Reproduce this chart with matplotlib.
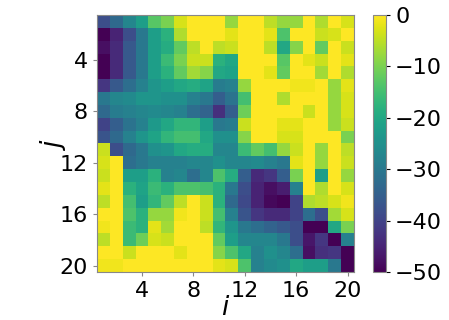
import numpy as np
import matplotlib
matplotlib.use('Agg')
import matplotlib.pyplot as plt

# values, rows j = 1..20, columns i = 1..20
row01 = [-38, -33, -27, -22, -13, -10, -3, 0, 0, 0, -8, 0, 0, -5, -8, -8, 0, -6, 0, -3]
row02 = [-50, -45, -38, -30, -22, -18, -6, 0, 0, 0, -2, 0, 0, -2, -14, 0, 0, -4, -3, 0]
row03 = [-48, -44, -36, -30, -22, -19, -12, -5, 0, -5, -4, 0, 0, -5, -20, -9, 0, -12, 0, -4]
row04 = [-50, -44, -36, -30, -22, -16, -10, -4, -4, -18, -20, 0, 0, 0, -13, 0, -2, -4, 0, -2]
row05 = [-50, -44, -36, -30, -22, -18, -12, -7, -9, -20, -21, 0, 0, -2, -12, 0, 0, -7, 0, -6]
row06 = [-42, -36, -32, -28, -24, -22, -20, -19, -21, -29, -28, -8, 0, 0, 0, -1, -1, 0, -8, -2]
row07 = [-30, -27, -26, -24, -24, -25, -25, -28, -30, -35, -31, -15, 0, 0, -6, 0, 0, 0, -8, -3]
row08 = [-33, -29, -28, -27, -26, -27, -28, -32, -34, -43, -35, -11, 0, 0, 0, 0, -4, 0, -8, -3]
row09 = [-40, -35, -31, -28, -23, -20, -17, -17, -22, -30, -29, -4, 0, 0, -2, -2, 0, 0, -8, -4]
row10 = [-37, -33, -28, -24, -21, -17, -15, -15, -20, -25, -25, -9, 0, 0, -3, -3, 0, 0, 0, -10]
row11 = [-4, -38, -33, -30, -25, -24, -20, -19, -19, -27, -27, -16, -12, -15, -8, -4, 0, -8, 0, -5]
row12 = [-3, 0, -32, -30, -28, -28, -28, -27, -27, -25, -27, -27, -26, -28, -30, -2, 0, -8, 0, -4]
row13 = [-4, 0, -22, -22, -18, -28, -27, -32, -27, -14, -19, -35, -44, -42, -35, -10, 0, -22, 0, -8]
row14 = [-2, 0, -18, -21, -16, -18, -14, -14, -15, -18, -30, -38, -45, -48, -46, -28, 0, -6, 0, -3]
row15 = [-5, 0, -15, -22, -17, -12, -5, 0, -4, -18, -33, -39, -45, -49, -50, -40, -6, -5, -3, -1]
row16 = [0, 0, -14, -18, -8, -8, -1, 0, -4, -15, -28, -37, -42, -44, -44, -40, -32, -38, -7, -3]
row17 = [-1, 0, -16, -18, -2, -7, 0, 0, -5, -17, -24, -30, -32, -34, -36, -38, -50, -50, -20, -10]
row18 = [-5, 0, -16, -11, -3, -4, 0, 0, 0, -12, -22, -27, -27, -27, -30, -38, -47, -42, -50, -28]
row19 = [0, 0, -4, 0, 0, 0, -2, 0, 0, -9, -14, -20, -28, -25, -27, -32, -48, -43, -42, -50]
row20 = [-1, -1, 0, 0, 0, 0, 0, 0, 0, -2, -3, -14, -28, -26, -25, -20, -22, -22, -30, -50]

ticks = [4, 8, 12, 16, 20]
cbar_ticks = [0, -10, -20, -30, -40, -50]

grid = np.array([row01, row02, row03, row04, row05, row06, row07, row08, row09, row10,
                 row11, row12, row13, row14, row15, row16, row17, row18, row19, row20])
n = grid.shape[0]

fig = plt.figure(figsize=(4.49, 3.20), dpi=100)
ax = fig.add_axes([97 / 449, 48 / 320, 257 / 449, 257 / 320])
cax = fig.add_axes([373 / 449, 48 / 320, 13 / 449, 257 / 320])

im = ax.imshow(grid, cmap='viridis', vmin=-50, vmax=0, aspect='auto',
               extent=(0.5, n + 0.5, n + 0.5, 0.5), interpolation='nearest')
ax.set_xticks(ticks)
ax.set_yticks(ticks)
ax.tick_params(labelsize=16, length=3, width=0.8, color='#888888')
ax.set_xlabel('$i$', fontsize=19, labelpad=-4)
ax.set_ylabel('$j$', fontsize=19, labelpad=-6)
for s in ax.spines.values():
    s.set_color('#888888')

cb = fig.colorbar(im, cax=cax, ticks=cbar_ticks)
cb.ax.tick_params(labelsize=16, length=3, width=0.8)
cb.outline.set_edgecolor('#888888')

fig.savefig('out.png', dpi=100)
